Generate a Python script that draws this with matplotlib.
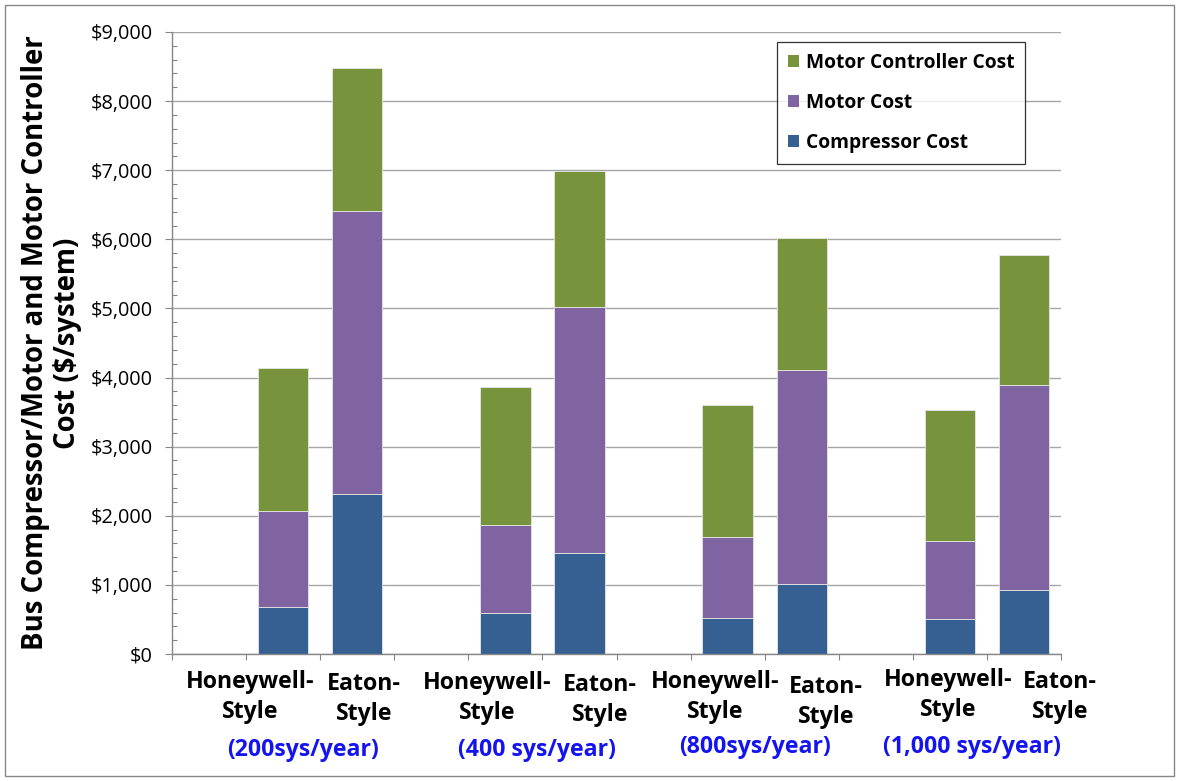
import matplotlib
matplotlib.use("Agg")
import matplotlib.pyplot as plt
from matplotlib.ticker import MultipleLocator, FixedLocator, FuncFormatter, NullFormatter
from matplotlib.patches import Patch, Rectangle

# Production volumes and system styles
volumes = ["(200sys/year)", "(400 sys/year)", "(800sys/year)", "(1,000 sys/year)"]
styles = [("Honeywell-", "Style"), ("Eaton-", "Style")]
ylabel_lines = ["Bus Compressor/Motor and Motor Controller", "Cost (\\$/system)"]

# Cost components per system ($), ordered Honeywell, Eaton within each volume
compressor_cost = [681, 2319, 592, 1468, 525, 1018, 510, 928]
motor_cost = [1381, 4095, 1272, 3551, 1165, 3092, 1128, 2965]
controller_cost = [2077, 2064, 1995, 1975, 1919, 1904, 1888, 1875]

series_names = ["Compressor Cost", "Motor Cost", "Motor Controller Cost"]
colors = ["#366092", "#8064A2", "#77933C"]

plt.rcParams["font.family"] = ["Open Sans", "DejaVu Sans"]

W, H = 1179, 781
fig = plt.figure(figsize=(W / 100, H / 100), dpi=100)
ax = fig.add_axes([172 / W, 1 - 654 / H, (1061 - 172) / W, (654 - 32) / H])

# Each volume occupies three category slots: an empty slot, then the two styles
slots = []
for g in range(len(volumes)):
    slots += [3 * g + 1, 3 * g + 2]

bottom = [0] * len(slots)
for vals, name, col in zip([compressor_cost, motor_cost, controller_cost], series_names, colors):
    ax.bar(slots, vals, width=0.68, bottom=bottom, color=col, edgecolor="#E6E6E6",
           linewidth=0.6, zorder=3, label=name)
    bottom = [b + v for b, v in zip(bottom, vals)]

ax.set_xlim(-0.5, 11.5)
ax.set_ylim(0, 9000)

axis_grey = "#868686"
ax.yaxis.set_major_locator(MultipleLocator(1000))
ax.yaxis.set_minor_locator(MultipleLocator(200))
ax.yaxis.set_major_formatter(FuncFormatter(lambda v, p: "\\${:,.0f}".format(v)))
ax.tick_params(axis="y", which="major", direction="out", length=5, width=0.8,
               color=axis_grey, labelsize=14.3, pad=9)
ax.tick_params(axis="y", which="minor", direction="in", length=3.6, width=0.8,
               color=axis_grey)
ax.xaxis.set_major_locator(FixedLocator([i - 0.5 for i in range(13)]))
ax.xaxis.set_major_formatter(NullFormatter())
ax.tick_params(axis="x", which="major", direction="out", length=4.3, width=0.8,
               color=axis_grey)

ax.grid(axis="y", which="major", color="#A6A6A6", linewidth=1.0, zorder=0)
ax.set_axisbelow(True)
for side in ["top", "right"]:
    ax.spines[side].set_visible(False)
for side in ["left", "bottom"]:
    ax.spines[side].set_color(axis_grey)
    ax.spines[side].set_linewidth(1.0)
    ax.spines[side].set_zorder(4)

# Category labels beneath the axis: centre x and first-line baseline (figure pixels)
style_label_pos = [(250, 688), (364, 690), (487, 689), (600, 691),
                   (715, 688), (826, 693), (948, 686), (1060, 688)]
volume_label_pos = [(303, 750), (537, 750), (755, 747), (972, 747)]
line_step = 30

for i, (px, py) in enumerate(style_label_pos):
    for k, line in enumerate(styles[i % 2]):
        fig.text(px / W, 1 - (py + k * line_step) / H, line, ha="center", va="baseline",
                 fontsize=16.7, fontweight="bold")
for txt, (px, py) in zip(volumes, volume_label_pos):
    fig.text(px / W, 1 - py / H, txt, ha="center", va="center",
             fontsize=16.7, fontweight="bold", color="#1414F0")

# Two-line vertical axis title
for line, px in zip(ylabel_lines, [36, 68]):
    fig.text(px / W, 1 - 343 / H, line, rotation=90, ha="center", va="center",
             fontsize=19.8, fontweight="bold")

handles = [Patch(facecolor=colors[i], edgecolor="none") for i in (2, 1, 0)]
labels = [series_names[i] for i in (2, 1, 0)]
leg = fig.legend(handles, labels, loc="upper left", bbox_to_anchor=(777 / W, 1 - 42 / H),
                 prop={"weight": "bold", "size": 13.9}, frameon=True,
                 fancybox=False, edgecolor="black", handlelength=0.6, handleheight=0.6,
                 handletextpad=0.35, labelspacing=1.05, borderpad=0.55, borderaxespad=0)
leg.get_frame().set_linewidth(0.9)

# Outer chart border
fig.patches.append(Rectangle((5 / W, 5 / H), (W - 10) / W, (H - 10) / H,
                             transform=fig.transFigure, fill=False,
                             edgecolor="#878787", linewidth=1.0))

fig.savefig("out.png", dpi=100)
